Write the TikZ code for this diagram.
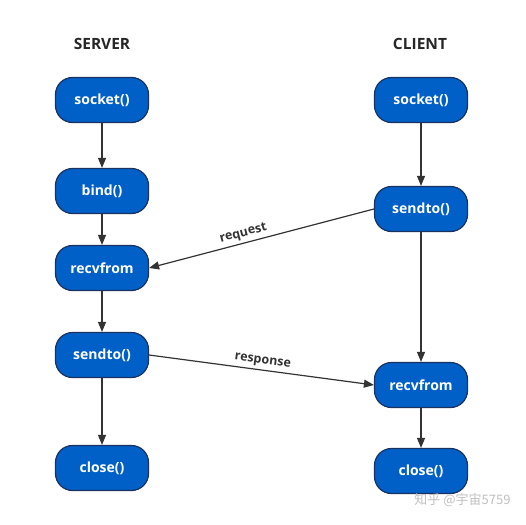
\documentclass[tikz,border=0pt]{standalone}
\usepackage{fontspec}
\setmainfont{Open Sans}
\newfontfamily\cjk{Noto Sans CJK SC}
\usetikzlibrary{arrows.meta}
\definecolor{boxblue}{RGB}{0,96,200}
\definecolor{boxedge}{RGB}{25,50,95}
\definecolor{linegray}{RGB}{51,51,51}
\begin{document}
\begin{tikzpicture}[x=1pt,y=-1pt,
  fn/.style={draw=boxedge,line width=1.2pt,fill=boxblue,rounded corners=17pt,
    minimum width=93pt,minimum height=45pt,inner sep=0pt,
    text=white,font=\bfseries\fontsize{14}{16}\selectfont},
  title/.style={font=\bfseries\fontsize{15.5}{18}\selectfont,text=black!85},
  arr/.style={draw=linegray,line width=1.2pt,-{Triangle[length=10pt,width=8pt]}},
  lbl/.style={font=\bfseries\fontsize{12.5}{14}\selectfont,text=black!80,sloped,above,inner sep=3pt}]
\useasboundingbox (0,0) rectangle (526,524);
\node[title] (ts) at (102,44) {SERVER};
\node[title] (tc) at (420,44) {CLIENT};
\node[fn] (s1) at (102,100) {socket()};
\node[fn] (s2) at (102,191) {bind()};
\node[fn] (s3) at (102,268) {recvfrom};
\node[fn] (s4) at (102,355) {sendto()};
\node[fn] (s5) at (102,468) {close()};
\node[fn] (c1) at (421,100) {socket()};
\node[fn] (c2) at (421,209) {sendto()};
\node[fn] (c3) at (421,385) {recvfrom};
\node[fn] (c4) at (421,471) {close()};
\draw[arr] (s1) -- (s2);
\draw[arr] (s2) -- (s3);
\draw[arr] (s3) -- (s4);
\draw[arr] (s4) -- (s5);
\draw[arr] (c1) -- (c2);
\draw[arr] (c2) -- (c3);
\draw[arr] (c3) -- (c4);
\draw[arr] (c2.west) -- node[lbl,pos=0.57] {request} (s3.east);
\draw[arr] (s4.east) -- node[lbl,pos=0.5] {response} (c3.west);
\node[font=\cjk\fontsize{13}{15}\selectfont,text=black!25,anchor=east] (wm) at (514,500) {知乎 @宇宙5759};
\end{tikzpicture}
\end{document}
